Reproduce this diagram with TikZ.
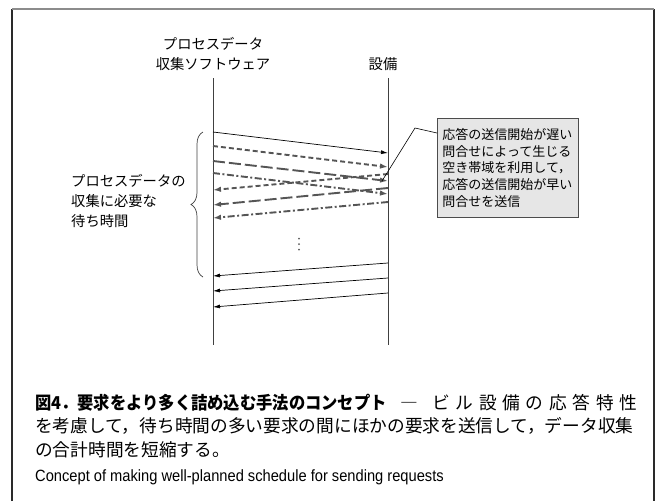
\documentclass[tikz,border=0pt]{standalone}
\usepackage{graphicx}
\usepackage{fontspec}
\setmainfont{Liberation Sans}
\newfontfamily\jp{Noto Sans CJK JP}
\newfontfamily\engf[FakeStretch=0.9]{Liberation Sans}
\usetikzlibrary{arrows.meta,decorations.pathreplacing}
\definecolor{arrowgray}{HTML}{555555}
\definecolor{boxfill}{HTML}{E6E6E6}
\definecolor{framegray}{HTML}{2A2A2A}
\definecolor{frametop}{HTML}{8C8C8C}
\begin{document}
\begin{tikzpicture}[x=1pt,y=-1pt,
  frameline/.style={draw=framegray,line width=1.2pt},
  frametopline/.style={draw=frametop,line width=1.4pt},
  lifeline/.style={draw=black!75,line width=1pt},
  req/.style={draw=black,line width=0.7pt,-{Latex[length=7pt,width=4pt]}},
  greq/.style={draw=arrowgray,line width=1.9pt,-{Latex[length=8pt,width=5.5pt]}},
  sdash/.style={dash pattern=on 5pt off 3pt},
  ldash/.style={dash pattern=on 12pt off 4pt},
  ddot/.style={dash pattern=on 7pt off 2.5pt on 2pt off 2.5pt},
  lbl/.style={font=\jp\fontsize{14.3}{20}\selectfont,align=center,inner sep=0pt},
  notebox/.style={draw=black!70,fill=boxfill,line width=0.8pt,font=\jp\fontsize{13}{16.7}\selectfont,align=left,text width=131pt,inner xsep=5pt,minimum height=99pt,anchor=north west},
  pointer/.style={draw=black,line width=0.6pt},
  capjp/.style={font=\jp\fontsize{17.7}{20}\selectfont,anchor=west,inner sep=0pt},
  capen/.style={font=\engf\fontsize{16.3}{18}\selectfont,anchor=west,inner sep=0pt},
  dotmark/.style={fill=black!65},
]
\useasboundingbox (0,0) rectangle (659,501);
% frame
\draw[frameline] (12,501) -- (12,9);
\draw[frameline] (654,9) -- (654,501);
\draw[frametopline] (12,9) -- (654,9);

% headings
\node[lbl] (sw) at (213,54) {プロセスデータ\\収集ソフトウェア};
\node[lbl] (eq) at (383,64) {設備};

% lifelines
\coordinate (swtop) at (213,78);
\coordinate (swbot) at (213,345);
\coordinate (eqtop) at (388,78);
\coordinate (eqbot) at (388,345);
\draw[lifeline] (swtop) -- (swbot);
\draw[lifeline] (eqtop) -- (eqbot);

% endpoints
\coordinate (a1) at (213,132); \coordinate (b1) at (388,153);
\coordinate (a2) at (213,146); \coordinate (b2) at (388,167);
\coordinate (a3) at (213,161); \coordinate (b3) at (388,181);
\coordinate (a4) at (213,173); \coordinate (b4) at (388,194);
\coordinate (b5) at (388,174); \coordinate (a5) at (213,190);
\coordinate (b6) at (388,188); \coordinate (a6) at (213,205);
\coordinate (b7) at (388,202); \coordinate (a7) at (213,218);
\coordinate (b8) at (388,263); \coordinate (a8) at (213,276);
\coordinate (b9) at (388,278); \coordinate (a9) at (213,291);
\coordinate (b10) at (388,293); \coordinate (a10) at (213,307);

% requests
\draw[req] (a1) -- (b1);
\draw[greq,sdash] (a2) -- (b2);
\draw[greq,ldash] (a3) -- (b3);
\draw[greq,ddot] (a4) -- (b4);
\draw[greq,sdash] (b5) -- (a5);
\draw[greq,ldash] (b6) -- (a6);
\draw[greq,ddot] (b7) -- (a7);
\draw[req] (b8) -- (a8);
\draw[req] (b9) -- (a9);
\draw[req] (b10) -- (a10);

% vertical dots
\fill[dotmark] (299,238.5) circle (1);
\fill[dotmark] (299,244) circle (1);
\fill[dotmark] (299,249.5) circle (1);

% brace and label
\coordinate (brbot) at (203,277);
\coordinate (brtop) at (203,132);
\draw[black!75,line width=0.7pt,decorate,decoration={brace,amplitude=12pt}] (brbot) -- (brtop);
\node[lbl,align=left,anchor=west] (wait) at (71,201) {プロセスデータの\\収集に必要な\\待ち時間};

% note box
\node[notebox] (note) at (437,118) {応答の送信開始が遅い\\問合せによって生じる\\空き帯域を利用して，\\応答の送信開始が早い\\問合せを送信};
\coordinate (knee) at (415,128);
\coordinate (tip) at (382,181);
\draw[pointer] ([yshift=-15pt]note.north west) -- (knee) -- (tip);

% caption
\node[capjp] (c1) at (35,403) {\makebox[602pt][l]{\scalebox{0.92}[1]{\bfseries 図4．要求をより多く詰め込む手法のコンセプト}\hspace{14pt}―\hspace{14pt}ビ\hfill ル\hfill 設\hfill 備\hfill の\hfill 応\hfill 答\hfill 特\hfill 性}};
\node[capjp] (c2) at (35,426) {を考慮して，待ち時間の多い要求の間にほかの要求を送信して，データ収集};
\node[capjp] (c3) at (35,450) {の合計時間を短縮する。};
\node[capen] (c4) at (35,477) {Concept of making well-planned schedule for sending requests};
\end{tikzpicture}
\end{document}
